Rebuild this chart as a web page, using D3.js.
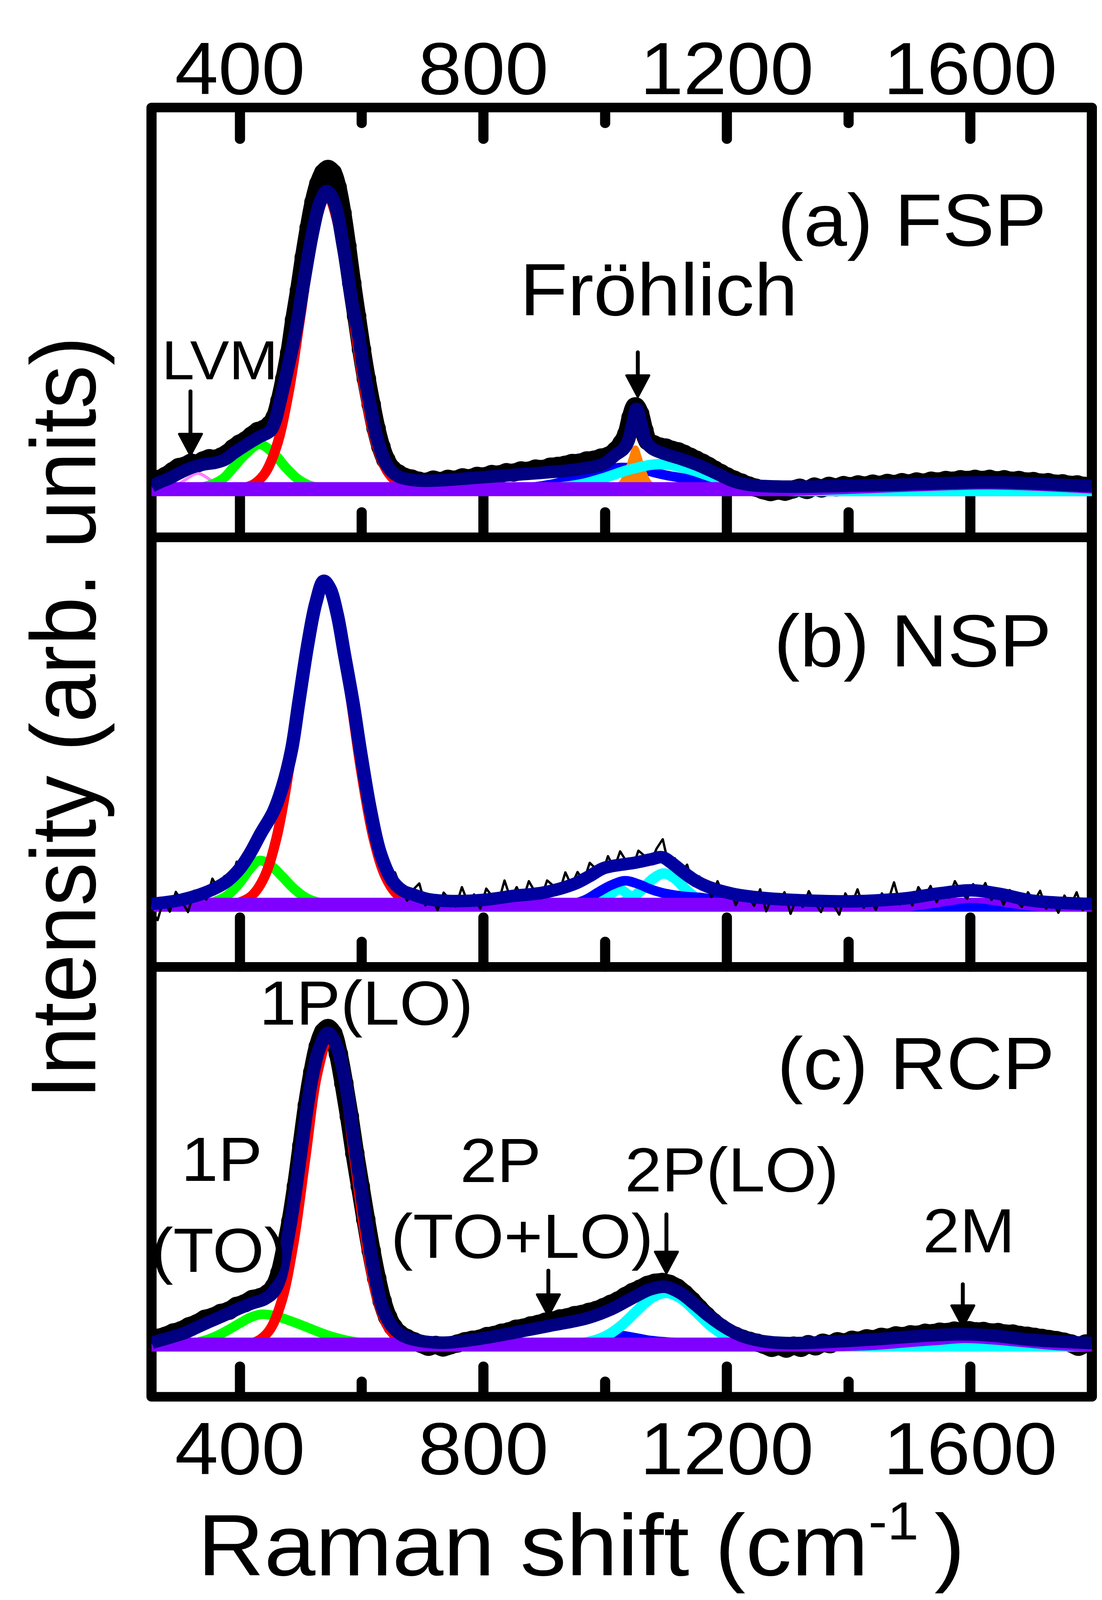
<!DOCTYPE html>
<html>
<head>
<meta charset="utf-8">
<script src="https://cdn.jsdelivr.net/npm/d3@7"></script>
<style>
  html, body { margin: 0; padding: 0; width: 100%; height: 100%; overflow: hidden; background: #fff; }
  svg { display: block; }
</style>
</head>
<body>
<div id="chart"></div>
<script>
// ---- axis values ----
const xDomain = [255, 1800]
const xTicksMajor = [400, 800, 1200, 1600]
const xTicksMinor = [600, 1000, 1400]

// ---- (a) FSP ----
const fspData = [[255,1.6],[265,2.6],[278,3.6],[290,4.9],[300,6.0],[310,6.4],[320,7.2],[330,7.0],[340,7.8],[350,8.4],[360,8.3],[370,8.9],[380,9.8],[390,11.2],[400,12.4],[410,13.3],[420,14.6],[430,15.8],[440,16.4],[450,17.6],[458,19.5],[466,24],[474,30],[482,37],[490,46],[498,54],[506,63],[514,71],[522,78],[530,83],[538,86],[545,87],[552,86],[560,82],[568,75],[576,66],[584,56],[592,47],[600,38],[608,30],[616,23],[624,16.5],[632,11.5],[640,8.0],[650,5.5],[660,4.3],[670,3.4],[682,2.9],[694,2.3],[706,2.0],[718,2.6],[730,2.2],[742,2.8],[754,2.6],[766,3.2],[778,3.0],[790,3.6],[802,3.5],[814,4.1],[826,4.0],[838,4.6],[850,4.5],[862,5.1],[874,5.0],[886,5.6],[898,5.5],[910,6.1],[922,6.3],[934,6.6],[946,7.1],[958,7.2],[970,7.8],[982,8.0],[994,8.6],[1006,9.1],[1018,10.5],[1028,12.5],[1036,15],[1043,19.5],[1050,22.5],[1057,20.5],[1064,16],[1071,13],[1080,12.2],[1090,11.6],[1100,11.3],[1110,10.7],[1120,10.3],[1130,9.6],[1140,8.8],[1150,8.0],[1160,7.2],[1170,6.3],[1180,5.3],[1190,4.4],[1200,3.5],[1212,2.6],[1224,1.8],[1236,1.0],[1248,0.4],[1260,-0.3],[1272,-0.8],[1284,-0.4],[1296,-0.7],[1308,-0.1],[1320,0.4],[1332,-0.2],[1344,0.7],[1356,0.2],[1368,0.9],[1380,0.5],[1392,1.1],[1404,0.8],[1416,1.3],[1428,1.0],[1440,1.5],[1452,1.2],[1464,1.7],[1476,1.4],[1488,1.9],[1500,1.6],[1512,2.1],[1524,1.8],[1536,2.3],[1548,2.1],[1560,2.5],[1572,2.3],[1584,2.7],[1596,2.5],[1608,2.8],[1620,2.5],[1632,2.8],[1644,2.4],[1656,2.7],[1668,2.3],[1680,2.5],[1692,2.1],[1704,2.2],[1716,1.8],[1728,1.9],[1740,1.5],[1752,1.6],[1764,1.2],[1776,1.3],[1788,0.9],[1800,1.1]]
const fspFit = [[255,0.8],[270,2.0],[285,3.0],[300,4.3],[320,5.8],[340,6.7],[360,7.2],[375,8.0],[390,9.8],[410,12.0],[430,14.0],[450,15.8],[458,18.5],[465,23],[479,33],[492,43],[505,56],[520,70],[532,78],[543,81],[555,78],[570,66],[585,50],[594,43],[603,33],[614,23],[627,13],[643,6.2],[660,3.5],[680,2.6],[700,2.3],[740,2.5],[780,3.0],[820,3.5],[860,4.0],[900,4.5],[955,5.4],[998,6.9],[1018,9.4],[1030,10.8],[1038,13],[1046,18],[1052,21.8],[1059,18],[1067,13],[1078,11],[1098,9.6],[1127,8.1],[1155,6.4],[1184,4.2],[1212,2.1],[1240,1.1],[1290,0.7],[1400,0.9],[1500,1.3],[1600,1.8],[1660,1.8],[1720,1.4],[1800,0.8]]
const fspLVM = [[280,0.2],[295,0.9],[310,2.5],[331,4.3],[350,2.7],[365,1.0],[385,0.2]]
const fspTO = [[320,0.2],[340,0.6],[360,1.7],[375,3.2],[390,6.0],[410,9.6],[432,12.2],[455,9.8],[475,6.0],[495,2.8],[515,1.0],[540,0.2]]
const fspLO = [[395,0.2],[420,1.1],[440,4.0],[460,11.4],[480,26],[500,47.4],[520,69],[543,80],[565,69.6],[585,48.5],[605,27],[625,11.9],[645,4.2],[665,1.2],[690,0.2]]
const fspTOLO = [[880,0.5],[920,1.6],[960,3.6],[1000,5.3],[1030,5.9],[1060,5.3],[1100,3.8],[1150,2.4],[1190,1.0],[1230,0.3]]
const fspFrohlich = [[1005,0],[1020,0.6],[1030,2.4],[1038,5.5],[1044,8.6],[1050,11.2],[1056,8.6],[1062,5.5],[1070,2.4],[1080,0.6],[1095,0]]
const fsp2LO = [[880,0.1],[920,0.4],[960,1.3],[1000,3.1],[1040,5.3],[1090,6.8],[1140,5.3],[1180,3.1],[1220,1.3],[1260,0.4],[1300,0.1]]
const fsp2M = [[1300,-1.9],[1350,-1.6],[1450,-1.0],[1550,-0.4],[1625,-0.1],[1700,-0.4],[1800,-1.2]]
const fspBase = [[255,0],[1800,0]]

// ---- (b) NSP ----
const nspDataStart = 255
const nspDataStep = 10
const nspDataY = [-1.3,-4.2,1.5,-1.9,3.5,0.8,-2.0,3.8,3.0,1.4,7.1,4.1,7.8,6.1,11.7,10.6,15.4,15.2,20.3,21.4,26.6,28.9,36,41.2,53.9,62.5,74.7,81.4,88,86.1,81.9,72.3,66.2,55.1,46.6,33.9,27.5,17.2,15.0,6.7,8.8,4.4,1.1,4.1,5.8,-0.2,2.0,-1.5,3.3,1.4,-0.5,4.8,0.4,2.8,-1.1,4.4,2.2,0.6,6.6,1.6,4.8,1.3,6.4,3.5,1.7,6.6,5.2,3.4,8.8,5.2,8.9,6.3,11.4,9.8,8.2,13.2,9.8,14.5,11.8,9.9,14.7,13.3,11.4,15.3,17.8,10.5,12.6,8.6,10.9,5.2,7.7,5.5,2.1,6.4,2.4,4.5,-0.1,3.5,2.4,-0.3,4.2,-1.8,2.3,0.2,3.4,-2.5,1.8,-0.6,3.7,0.5,-2.0,2.3,0.1,-2.7,3.1,-0.1,4.2,-0.9,1.8,-1.4,3.1,0.9,6.1,0.1,3.1,-0.2,4.8,2.0,5.1,0.7,4.4,1.9,6.4,3.4,1.6,5.6,2.6,5.9,1.3,3.8,0.0,4.0,1.2,-0.6,3.4,0.9,3.8,-1.1,1.3,-2.2,2.5,-0.3,3.4,-1.5,1.1]
const nspData = nspDataY.map((v, i) => [nspDataStart + i * nspDataStep, v])
const nspFit = [[255,0.2],[270,0.5],[300,1.2],[335,2.8],[360,4.5],[380,6.5],[400,9.8],[417,14],[435,19.5],[455,25.2],[470,32],[485,42],[497,55],[512,71],[525,82],[538,88],[548,86],[560,79],[572,68],[586,55],[599,41],[615,25.5],[631,14],[651,6.5],[668,3.8],[684,2.8],[710,1.5],[750,1.0],[800,1.3],[850,2.4],[899,3.3],[949,5.6],[975,7.8],[999,10],[1049,11.4],[1075,12.3],[1094,12.9],[1110,11.3],[1129,8.8],[1149,6.5],[1169,4.9],[1209,3.0],[1250,2.0],[1298,1.4],[1398,0.9],[1450,1.2],[1498,1.8],[1550,3.1],[1603,3.9],[1650,2.9],[1698,1.2],[1750,0.5],[1800,0.2]]
const nspTO = [[340,0.2],[360,0.9],[380,2.6],[400,6.0],[416,9.6],[432,12],[450,10.8],[470,7.6],[490,4.2],[510,1.8],[530,0.6],[550,0.1]]
const nspLO = [[380,0.15],[400,0.7],[420,2.5],[440,7.4],[460,17.9],[480,35.8],[500,58.6],[520,78.8],[540,87],[560,78.8],[580,58.6],[600,35.8],[620,17.9],[640,7.4],[660,2.5],[680,0.7],[700,0.15]]
const nspTOLO = [[950,0.3],[970,1.5],[990,3.5],[1010,5.3],[1033,6.5],[1055,5.6],[1075,4.2],[1095,3.2],[1115,2.6],[1135,2.2],[1160,1.9],[1185,1.2],[1205,0.3]]
const nsp2LOa = [[975,0.1],[995,1.0],[1010,2.8],[1024,4.2],[1038,2.8],[1053,1.0],[1070,0.1]]
const nsp2LO = [[1000,0.05],[1020,0.3],[1040,1.4],[1060,4.0],[1080,7.2],[1097,8.5],[1115,7.1],[1135,3.8],[1155,1.3],[1175,0.3],[1195,0.05]]
const nsp2M = [[1500,-1.8],[1540,-0.9],[1570,-0.1],[1600,0.5],[1630,0.1],[1660,-0.7],[1700,-1.6],[1720,-1.8]]
const nspBase = [[255,0],[1800,0]]

// ---- (c) RCP ----
const rcpData = [[255,0.9],[265,1.8],[278,2.4],[291,3.3],[304,3.9],[317,5.0],[330,5.8],[343,7.0],[356,7.6],[369,8.6],[382,9.2],[395,10.5],[408,11.2],[421,12.4],[434,12.9],[447,14.0],[457,15.8],[466,19.5],[475,26],[484,33.5],[493,43],[502,54],[511,65],[520,74],[529,81],[538,85],[545,86],[553,84.5],[562,79],[571,71],[580,62],[589,52],[598,43],[607,34],[616,25.5],[625,18],[634,11.8],[643,7.5],[652,4.8],[662,3.0],[674,1.8],[686,0.9],[698,0.2],[710,-0.6],[722,-0.1],[734,-0.8],[746,-0.2],[758,0.3],[770,0.9],[782,1.3],[794,1.6],[806,2.3],[818,2.6],[830,3.2],[842,3.6],[854,4.3],[866,4.6],[878,5.2],[890,5.6],[902,6.2],[914,6.5],[926,7.1],[938,7.4],[950,8.0],[962,8.3],[974,8.9],[986,9.4],[998,10.2],[1010,11.1],[1022,12.0],[1034,13.2],[1046,14.3],[1058,15.2],[1070,16.2],[1082,16.8],[1094,17.0],[1106,16.5],[1118,15.5],[1130,13.9],[1142,12.0],[1154,9.9],[1166,7.9],[1178,6.1],[1190,4.6],[1202,3.3],[1214,2.4],[1226,1.6],[1238,1.0],[1250,0.5],[1262,-0.1],[1274,-0.9],[1286,-0.4],[1298,-1.1],[1310,-0.3],[1322,-0.9],[1334,0.1],[1346,-0.5],[1358,0.5],[1370,0.1],[1382,0.9],[1394,0.6],[1406,1.3],[1418,1.1],[1430,1.7],[1442,1.5],[1454,2.1],[1466,1.9],[1478,2.5],[1490,2.3],[1502,2.8],[1514,2.7],[1526,3.2],[1538,3.1],[1550,3.5],[1562,3.4],[1574,3.8],[1586,3.6],[1598,3.9],[1610,3.6],[1622,3.7],[1634,3.3],[1646,3.4],[1658,3.0],[1670,3.0],[1682,2.6],[1694,2.4],[1706,2.1],[1718,1.8],[1730,1.5],[1742,1.2],[1754,0.8],[1766,0.3],[1778,-0.6],[1790,0.3],[1800,0.5]]
const rcpFit = [[255,0.4],[260,0.7],[285,1.9],[310,3.2],[330,4.7],[350,6.2],[375,8.0],[400,9.9],[420,11.2],[440,12.3],[455,14.2],[466,18],[478,28],[490,40],[505,57.8],[519,72.7],[532,81],[545,84.7],[558,81.5],[572,72.7],[586,57.8],[605,36],[620,20.5],[636,9.3],[650,5.0],[666,2.6],[690,1.2],[734,0.5],[769,1.0],[810,2.0],[849,3.2],[909,5.1],[969,7.1],[1009,9.5],[1049,13],[1074,15],[1099,15.7],[1124,14],[1149,10.8],[1169,8.0],[1189,5.6],[1209,3.6],[1229,2.1],[1260,0.9],[1299,0.4],[1350,0.6],[1398,1.0],[1450,1.5],[1498,2.1],[1550,2.6],[1590,2.8],[1640,2.4],[1698,1.3],[1750,0.8],[1800,0.4]]
const rcpTO = [[320,0.3],[340,1.0],[360,2.2],[380,3.9],[400,5.8],[418,7.4],[435,8.2],[455,7.9],[475,6.9],[495,5.7],[515,4.4],[535,3.1],[555,2.0],[580,1.0],[605,0.4],[635,0.1]]
const rcpLO = [[408,0.2],[428,0.9],[448,3.7],[468,11.4],[488,27.3],[508,51],[528,74.1],[548,84],[568,74.1],[588,51],[608,27.3],[628,11.4],[648,3.7],[668,0.9],[688,0.2]]
const rcpTOLO = [[960,0.2],[985,1.0],[1005,2.0],[1022,2.5],[1045,2.0],[1075,1.1],[1110,0.6],[1150,0.3],[1200,0.1]]
const rcp2LO = [[950,0.2],[975,0.8],[1000,2.2],[1025,4.9],[1050,8.8],[1075,12.5],[1100,14],[1125,12.5],[1150,8.8],[1175,4.9],[1200,2.2],[1225,0.8],[1250,0.2]]
const rcp2M = [[1370,-1.9],[1450,-1.4],[1500,-0.7],[1550,-0.1],[1590,0.4],[1630,0.1],[1680,-0.6],[1740,-1.5],[1800,-1.9]]
const rcpBase = [[255,0],[1800,0]]

// ---- annotations ----
const panelTitles = ['(a) FSP', '(b) NSP', '(c) RCP']
const peakLabels = ['Fröhlich', 'LVM', '1P(LO)', '1P', '(TO)', '2P', '(TO+LO)', '2P(LO)', '2M']
const arrowAt = [319, 1054, 907, 1101, 1588]   // cm-1 the arrows point to

// ---- layout ----
const WIDTH = 2822, HEIGHT = 4347
const X_LEFT = 388, X_RIGHT = 2796
const FONT = '"Liberation Sans", Arial, Helvetica, sans-serif'
const FRAME_W = 26
const C = {data: '#000000', fit: '#000080', fitB: '#0000a0', base: '#8000ff', lo: '#ff0000',
  to: '#00ff00', lvm: '#ff80ff', tolo: '#0000ff', two: '#00ffff', fro: '#ff8000'}

const x = d3.scaleLinear().domain(xDomain).range([X_LEFT, X_RIGHT])

// scale with the window, so the whole figure stays in view
const svg = d3.select('#chart').append('svg')
  .attr('viewBox', `0 0 ${WIDTH} ${HEIGHT}`)
  .attr('preserveAspectRatio', 'none')
  .style('width', '100vw')
  .style('height', '100vh')
svg.append('rect').attr('width', WIDTH).attr('height', HEIGHT).attr('fill', '#fff')

const panels = [
  {id: 'fsp', top: 292, bottom: 1460, yDomain: [-13.1, 103.7],
    ticks: [{orient: 'top', y: 292, major: 86, minor: 43, labels: true, pad: 36},
            {orient: 'bottom', y: 1460, major: 135, minor: 69}],
    layers: [
      {type: 'dots', data: fspData},
      {type: 'line', data: fspLVM, color: C.lvm, w: 8},
      {type: 'line', data: fspTO, color: C.to, w: 26},
      {type: 'line', data: fspLO, color: C.lo, w: 26},
      {type: 'line', data: fspTOLO, color: C.tolo, w: 26},
      {type: 'solid', data: fspFrohlich, color: C.fro, w: 14},
      {type: 'line', data: fsp2LO, color: C.two, w: 28},
      {type: 'line', data: fspBase, color: C.base, w: 38},
      {type: 'fill', data: fsp2M, color: C.two, from: -1.9},
      {type: 'line', data: fspFit, color: C.fit, w: 34}
    ]},
  {id: 'nsp', top: 1460, bottom: 2627, yDomain: [-16.9, 99.8],
    ticks: [{orient: 'bottom', y: 2627, major: 135, minor: 69}],
    layers: [
      {type: 'line', data: nspTO, color: C.to, w: 26},
      {type: 'line', data: nspLO, color: C.lo, w: 26},
      {type: 'line', data: nsp2LOa, color: C.two, w: 26},
      {type: 'line', data: nsp2LO, color: C.two, w: 28},
      {type: 'line', data: nspTOLO, color: C.tolo, w: 26},
      {type: 'line', data: nspBase, color: C.base, w: 38},
      {type: 'fill', data: nsp2M, color: C.tolo, from: -1.8},
      {type: 'thin', data: nspData},
      {type: 'line', data: nspFit, color: C.fitB, w: 34}
    ]},
  {id: 'rcp', top: 2627, bottom: 3795, yDomain: [-14.2, 102.6],
    ticks: [{orient: 'bottom', y: 3795, major: 83, minor: 42, labels: true, pad: 68}],
    layers: [
      {type: 'dots', data: rcpData},
      {type: 'line', data: rcpTO, color: C.to, w: 26},
      {type: 'line', data: rcpLO, color: C.lo, w: 26},
      {type: 'line', data: rcpTOLO, color: C.tolo, w: 26},
      {type: 'line', data: rcp2LO, color: C.two, w: 28},
      {type: 'line', data: rcpBase, color: C.base, w: 38},
      {type: 'fill', data: rcp2M, color: C.two, from: -1.9},
      {type: 'line', data: rcpFit, color: C.fit, w: 34}
    ]}
]

function drawTicks(g, t) {
  const make = t.orient === 'top' ? d3.axisTop : d3.axisBottom
  const major = make(x).tickValues(xTicksMajor).tickSizeInner(-t.major).tickSizeOuter(0)
    .tickPadding(t.pad || 0).tickFormat(t.labels ? d3.format('d') : () => '')
  const minor = make(x).tickValues(xTicksMinor).tickSizeInner(-t.minor).tickSizeOuter(0)
    .tickFormat(() => '')
  ;[major, minor].forEach(ax => {
    const ag = g.append('g').attr('transform', `translate(0,${t.y})`).call(ax)
    ag.select('.domain').remove()
    ag.selectAll('.tick line')
      .attr('stroke', '#000')
      .attr('stroke-width', FRAME_W)
      .attr('stroke-linecap', 'round')
    ag.selectAll('.tick text')
      .attr('fill', '#000')
      .attr('font-family', FONT)
      .attr('font-size', 200)
  })
}

function drawPanel(p) {
  const y = d3.scaleLinear().domain(p.yDomain).range([p.bottom, p.top])
  const g = svg.append('g').attr('class', 'panel-' + p.id)

  g.append('rect')
    .attr('x', X_LEFT).attr('y', p.top)
    .attr('width', X_RIGHT - X_LEFT).attr('height', p.bottom - p.top)
    .attr('fill', 'none').attr('stroke', '#000')
    .attr('stroke-width', FRAME_W).attr('stroke-linejoin', 'round')

  p.ticks.forEach(t => drawTicks(g, t))

  svg.append('clipPath').attr('id', 'clip-' + p.id)
    .append('rect')
      .attr('x', X_LEFT).attr('y', p.top)
      .attr('width', X_RIGHT - X_LEFT).attr('height', p.bottom - p.top)

  const plot = g.append('g').attr('clip-path', `url(#clip-${p.id})`)

  const line = d3.line()
    .x(d => x(d[0]))
    .y(d => y(d[1]))
    .curve(d3.curveCatmullRom)

  p.layers.forEach(l => {
    if (l.type === 'dots') {
      plot.append('path').datum(l.data)
        .attr('d', line).attr('fill', 'none').attr('stroke', C.data)
        .attr('stroke-width', 48).attr('stroke-linejoin', 'round')
      plot.append('g').selectAll('circle').data(l.data).enter().append('circle')
        .attr('cx', d => x(d[0])).attr('cy', d => y(d[1])).attr('r', 25)
        .attr('fill', C.data)
    } else if (l.type === 'thin') {
      plot.append('path').datum(l.data)
        .attr('d', d3.line().x(d => x(d[0])).y(d => y(d[1])))
        .attr('fill', 'none').attr('stroke', C.data).attr('stroke-width', 6)
        .attr('stroke-linejoin', 'round')
    } else if (l.type === 'fill') {
      const area = d3.area()
        .x(d => x(d[0])).y0(y(l.from)).y1(d => y(d[1]))
        .curve(d3.curveCatmullRom)
      plot.append('path').datum(l.data).attr('d', area).attr('fill', l.color)
    } else if (l.type === 'solid') {
      const area = d3.area()
        .x(d => x(d[0])).y0(y(0)).y1(d => y(d[1]))
        .curve(d3.curveCatmullRom)
      plot.append('path').datum(l.data).attr('d', area)
        .attr('fill', l.color).attr('stroke', l.color)
        .attr('stroke-width', l.w).attr('stroke-linejoin', 'round')
    } else {
      plot.append('path').datum(l.data)
        .attr('d', line).attr('fill', 'none').attr('stroke', l.color)
        .attr('stroke-width', l.w).attr('stroke-linejoin', 'round')
    }
  })
}

panels.forEach(drawPanel)

// panel titles and peak labels
const textSpots = [
  {t: panelTitles[0], x: 2680, y: 668, size: 200, anchor: 'end'},
  {t: panelTitles[1], x: 2693, y: 1811, size: 200, anchor: 'end'},
  {t: panelTitles[2], x: 2701, y: 2959, size: 200, anchor: 'end'},
  {t: peakLabels[0], x: 1687, y: 856, size: 200},
  {t: peakLabels[1], x: 563, y: 1030, size: 150},
  {t: peakLabels[2], x: 938, y: 2784, size: 170},
  {t: peakLabels[3], x: 568, y: 3208, size: 170},
  {t: peakLabels[4], x: 560, y: 3455, size: 170},
  {t: peakLabels[5], x: 1282, y: 3211, size: 170},
  {t: peakLabels[6], x: 1337, y: 3417, size: 170},
  {t: peakLabels[7], x: 1874, y: 3237, size: 170},
  {t: peakLabels[8], x: 2481, y: 3403, size: 170}
]
svg.append('g').selectAll('text').data(textSpots).enter().append('text')
  .attr('x', d => d.x).attr('y', d => d.y)
  .attr('text-anchor', d => d.anchor || 'middle')
  .attr('font-family', FONT).attr('font-size', d => d.size)
  .attr('fill', '#000')
  .text(d => d.t)

// arrows: shaft top and tip in page px
const arrowSpots = [
  {at: arrowAt[0], top: 1063, tip: 1237},
  {at: arrowAt[1], top: 957, tip: 1078},
  {at: arrowAt[2], top: 3452, tip: 3575},
  {at: arrowAt[3], top: 3299, tip: 3459},
  {at: arrowAt[4], top: 3489, tip: 3605}
]
const HEAD = 58
const arrows = svg.append('g')
arrowSpots.forEach(a => {
  const ax = x(a.at)
  arrows.append('line')
    .attr('x1', ax).attr('x2', ax).attr('y1', a.top).attr('y2', a.tip - HEAD + 4)
    .attr('stroke', '#000').attr('stroke-width', 10).attr('stroke-linecap', 'round')
  arrows.append('path')
    .attr('d', `M${ax - HEAD / 2},${a.tip - HEAD} L${ax + HEAD / 2},${a.tip - HEAD} L${ax},${a.tip} Z`)
    .attr('fill', '#000').attr('stroke', '#000').attr('stroke-width', 6)
    .attr('stroke-linejoin', 'round')
})

// axis titles
const xTitle = svg.append('text')
  .attr('x', 506).attr('y', 4280)
  .attr('font-family', FONT).attr('font-size', 236).attr('fill', '#000')
xTitle.append('tspan').text('Raman shift (cm')
xTitle.append('tspan').attr('font-size', 145).attr('dy', -98).text('-1')
xTitle.append('tspan').attr('dy', 98).attr('dx', 40).text(')')

svg.append('text')
  .attr('transform', 'translate(244,1950) rotate(-90)')
  .attr('text-anchor', 'middle')
  .attr('font-family', FONT).attr('font-size', 236).attr('fill', '#000')
  .text('Intensity (arb. units)')
</script>
</body>
</html>
